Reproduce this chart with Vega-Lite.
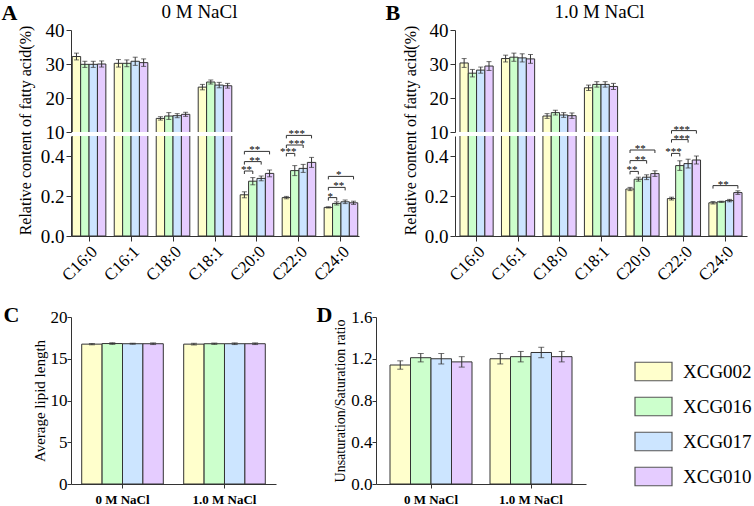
{
 "$schema": "https://vega.github.io/schema/vega-lite/v6.json",
 "background": "white",
 "padding": {"left": 1, "top": 1, "right": 0, "bottom": 0},
 "config": {
  "font": "Liberation Serif",
  "view": {"stroke": null},
  "axis": {"labelFont": "Liberation Serif", "titleFont": "Liberation Serif", "titleFontWeight": "normal", "domainColor": "#333", "tickColor": "#333", "labelColor": "#000", "titleColor": "#000", "grid": false, "labelPadding": 2, "labelOverlap": false, "labelBound": false, "labelFlush": false},
  "title": {"font": "Liberation Serif", "fontWeight": "normal", "color": "#000"},
  "legend": {"labelFont": "Liberation Serif", "labelColor": "#000"}
 },
 "datasets": {
  "fa": [
   {"salt":"0 M NaCl","acid":"C16:0","strain":"XCG002","v":32.2,"e":1.0},
   {"salt":"0 M NaCl","acid":"C16:0","strain":"XCG016","v":29.9,"e":0.9},
   {"salt":"0 M NaCl","acid":"C16:0","strain":"XCG017","v":29.9,"e":0.9},
   {"salt":"0 M NaCl","acid":"C16:0","strain":"XCG010","v":30.0,"e":0.9},
   {"salt":"0 M NaCl","acid":"C16:1","strain":"XCG002","v":30.2,"e":1.1},
   {"salt":"0 M NaCl","acid":"C16:1","strain":"XCG016","v":30.2,"e":1.0},
   {"salt":"0 M NaCl","acid":"C16:1","strain":"XCG017","v":30.8,"e":1.2},
   {"salt":"0 M NaCl","acid":"C16:1","strain":"XCG010","v":30.4,"e":1.1},
   {"salt":"0 M NaCl","acid":"C18:0","strain":"XCG002","v":14.0,"e":0.5},
   {"salt":"0 M NaCl","acid":"C18:0","strain":"XCG016","v":14.7,"e":1.0},
   {"salt":"0 M NaCl","acid":"C18:0","strain":"XCG017","v":14.8,"e":0.6},
   {"salt":"0 M NaCl","acid":"C18:0","strain":"XCG010","v":15.2,"e":0.6},
   {"salt":"0 M NaCl","acid":"C18:1","strain":"XCG002","v":23.2,"e":0.8},
   {"salt":"0 M NaCl","acid":"C18:1","strain":"XCG016","v":24.7,"e":0.6},
   {"salt":"0 M NaCl","acid":"C18:1","strain":"XCG017","v":23.8,"e":0.8},
   {"salt":"0 M NaCl","acid":"C18:1","strain":"XCG010","v":23.6,"e":0.7},
   {"salt":"0 M NaCl","acid":"C20:0","strain":"XCG002","v":0.206,"e":0.015},
   {"salt":"0 M NaCl","acid":"C20:0","strain":"XCG016","v":0.274,"e":0.018},
   {"salt":"0 M NaCl","acid":"C20:0","strain":"XCG017","v":0.288,"e":0.012},
   {"salt":"0 M NaCl","acid":"C20:0","strain":"XCG010","v":0.313,"e":0.017},
   {"salt":"0 M NaCl","acid":"C22:0","strain":"XCG002","v":0.192,"e":0.006},
   {"salt":"0 M NaCl","acid":"C22:0","strain":"XCG016","v":0.327,"e":0.025},
   {"salt":"0 M NaCl","acid":"C22:0","strain":"XCG017","v":0.338,"e":0.02},
   {"salt":"0 M NaCl","acid":"C22:0","strain":"XCG010","v":0.368,"e":0.025},
   {"salt":"0 M NaCl","acid":"C24:0","strain":"XCG002","v":0.143,"e":0.003},
   {"salt":"0 M NaCl","acid":"C24:0","strain":"XCG016","v":0.163,"e":0.008},
   {"salt":"0 M NaCl","acid":"C24:0","strain":"XCG017","v":0.171,"e":0.009},
   {"salt":"0 M NaCl","acid":"C24:0","strain":"XCG010","v":0.166,"e":0.008},
   {"salt":"1.0 M NaCl","acid":"C16:0","strain":"XCG002","v":30.3,"e":1.3},
   {"salt":"1.0 M NaCl","acid":"C16:0","strain":"XCG016","v":27.3,"e":1.1},
   {"salt":"1.0 M NaCl","acid":"C16:0","strain":"XCG017","v":28.2,"e":0.9},
   {"salt":"1.0 M NaCl","acid":"C16:0","strain":"XCG010","v":29.4,"e":1.3},
   {"salt":"1.0 M NaCl","acid":"C16:1","strain":"XCG002","v":31.6,"e":1.0},
   {"salt":"1.0 M NaCl","acid":"C16:1","strain":"XCG016","v":32.0,"e":1.2},
   {"salt":"1.0 M NaCl","acid":"C16:1","strain":"XCG017","v":31.8,"e":1.2},
   {"salt":"1.0 M NaCl","acid":"C16:1","strain":"XCG010","v":31.5,"e":1.3},
   {"salt":"1.0 M NaCl","acid":"C18:0","strain":"XCG002","v":14.7,"e":0.7},
   {"salt":"1.0 M NaCl","acid":"C18:0","strain":"XCG016","v":15.7,"e":0.7},
   {"salt":"1.0 M NaCl","acid":"C18:0","strain":"XCG017","v":15.0,"e":0.7},
   {"salt":"1.0 M NaCl","acid":"C18:0","strain":"XCG010","v":14.8,"e":0.8},
   {"salt":"1.0 M NaCl","acid":"C18:1","strain":"XCG002","v":23.0,"e":0.8},
   {"salt":"1.0 M NaCl","acid":"C18:1","strain":"XCG016","v":24.0,"e":0.8},
   {"salt":"1.0 M NaCl","acid":"C18:1","strain":"XCG017","v":24.0,"e":0.8},
   {"salt":"1.0 M NaCl","acid":"C18:1","strain":"XCG010","v":23.4,"e":0.9},
   {"salt":"1.0 M NaCl","acid":"C20:0","strain":"XCG002","v":0.235,"e":0.008},
   {"salt":"1.0 M NaCl","acid":"C20:0","strain":"XCG016","v":0.284,"e":0.01},
   {"salt":"1.0 M NaCl","acid":"C20:0","strain":"XCG017","v":0.294,"e":0.012},
   {"salt":"1.0 M NaCl","acid":"C20:0","strain":"XCG010","v":0.312,"e":0.014},
   {"salt":"1.0 M NaCl","acid":"C22:0","strain":"XCG002","v":0.187,"e":0.007},
   {"salt":"1.0 M NaCl","acid":"C22:0","strain":"XCG016","v":0.352,"e":0.024},
   {"salt":"1.0 M NaCl","acid":"C22:0","strain":"XCG017","v":0.362,"e":0.022},
   {"salt":"1.0 M NaCl","acid":"C22:0","strain":"XCG010","v":0.38,"e":0.02},
   {"salt":"1.0 M NaCl","acid":"C24:0","strain":"XCG002","v":0.166,"e":0.006},
   {"salt":"1.0 M NaCl","acid":"C24:0","strain":"XCG016","v":0.171,"e":0.003},
   {"salt":"1.0 M NaCl","acid":"C24:0","strain":"XCG017","v":0.177,"e":0.006},
   {"salt":"1.0 M NaCl","acid":"C24:0","strain":"XCG010","v":0.217,"e":0.009}
  ],
  "br": [
   {"salt":"0 M NaCl","acid":"C20:0","a":"XCG002","b":"XCG016","y":0.325,"label":"**"},
   {"salt":"0 M NaCl","acid":"C20:0","a":"XCG002","b":"XCG017","y":0.372,"label":"**"},
   {"salt":"0 M NaCl","acid":"C20:0","a":"XCG002","b":"XCG010","y":0.423,"label":"**"},
   {"salt":"0 M NaCl","acid":"C22:0","a":"XCG002","b":"XCG016","y":0.413,"label":"***"},
   {"salt":"0 M NaCl","acid":"C22:0","a":"XCG002","b":"XCG017","y":0.455,"label":"***"},
   {"salt":"0 M NaCl","acid":"C22:0","a":"XCG002","b":"XCG010","y":0.503,"label":"***"},
   {"salt":"0 M NaCl","acid":"C24:0","a":"XCG002","b":"XCG016","y":0.192,"label":"*"},
   {"salt":"0 M NaCl","acid":"C24:0","a":"XCG002","b":"XCG017","y":0.243,"label":"**"},
   {"salt":"0 M NaCl","acid":"C24:0","a":"XCG002","b":"XCG010","y":0.298,"label":"*"},
   {"salt":"1.0 M NaCl","acid":"C20:0","a":"XCG002","b":"XCG016","y":0.323,"label":"**"},
   {"salt":"1.0 M NaCl","acid":"C20:0","a":"XCG002","b":"XCG017","y":0.377,"label":"**"},
   {"salt":"1.0 M NaCl","acid":"C20:0","a":"XCG002","b":"XCG010","y":0.43,"label":"**"},
   {"salt":"1.0 M NaCl","acid":"C22:0","a":"XCG002","b":"XCG016","y":0.413,"label":"***"},
   {"salt":"1.0 M NaCl","acid":"C22:0","a":"XCG002","b":"XCG017","y":0.482,"label":"***"},
   {"salt":"1.0 M NaCl","acid":"C22:0","a":"XCG002","b":"XCG010","y":0.527,"label":"***"},
   {"salt":"1.0 M NaCl","acid":"C24:0","a":"XCG002","b":"XCG010","y":0.252,"label":"**"}
  ],
  "len": [
   {"salt":"0 M NaCl","strain":"XCG002","v":16.75,"e":0.08},
   {"salt":"0 M NaCl","strain":"XCG016","v":16.82,"e":0.1},
   {"salt":"0 M NaCl","strain":"XCG017","v":16.8,"e":0.06},
   {"salt":"0 M NaCl","strain":"XCG010","v":16.8,"e":0.1},
   {"salt":"1.0 M NaCl","strain":"XCG002","v":16.75,"e":0.1},
   {"salt":"1.0 M NaCl","strain":"XCG016","v":16.8,"e":0.08},
   {"salt":"1.0 M NaCl","strain":"XCG017","v":16.8,"e":0.1},
   {"salt":"1.0 M NaCl","strain":"XCG010","v":16.8,"e":0.1}
  ],
  "ratio": [
   {"salt":"0 M NaCl","strain":"XCG002","v":1.14,"e":0.04},
   {"salt":"0 M NaCl","strain":"XCG016","v":1.21,"e":0.04},
   {"salt":"0 M NaCl","strain":"XCG017","v":1.2,"e":0.05},
   {"salt":"0 M NaCl","strain":"XCG010","v":1.17,"e":0.05},
   {"salt":"1.0 M NaCl","strain":"XCG002","v":1.2,"e":0.05},
   {"salt":"1.0 M NaCl","strain":"XCG016","v":1.22,"e":0.05},
   {"salt":"1.0 M NaCl","strain":"XCG017","v":1.26,"e":0.05},
   {"salt":"1.0 M NaCl","strain":"XCG010","v":1.22,"e":0.05}
  ]
 },
 "resolve": {"scale": {"fill": "independent", "xOffset": "independent"}, "legend": {"fill": "independent"}},
 "spacing": 19,
 "align": "none",
 "vconcat": [
  {
   "hconcat": [
    {
     "spacing": 4,
     "bounds": "flush",
     "resolve": {"scale": {"fill": "independent", "xOffset": "independent"}, "legend": {"fill": "independent"}},
     "vconcat": [
      {
       "width": 288, "height": 102,
       "data": {"name": "fa"},
       "transform": [{"filter": "datum.salt == '0 M NaCl'"}, {"calculate": "datum.v - datum.e", "as": "lo"}, {"calculate": "datum.v + datum.e", "as": "hi"}],
       "encoding": {
        "x": {"field": "acid", "type": "nominal", "scale": {"domain": ["C16:0","C16:1","C18:0","C18:1","C20:0","C22:0","C24:0"], "paddingInner": 0.2, "paddingOuter": 0.03},
              "axis": {"orient": "top", "domain": false, "ticks": false, "labels": false, "title": "0 M NaCl", "titleFontSize": 19, "titleX": 128, "titleY": -19, "titleBaseline": "middle", "titleAlign": "center"}},
        "xOffset": {"field": "strain", "type": "nominal", "scale": {"domain": ["XCG002","XCG016","XCG017","XCG010"]}}
       },
       "layer": [
        {"mark": {"type": "bar", "clip": true, "stroke": "#333", "strokeWidth": 1},
         "encoding": {
          "y": {"field": "v", "type": "quantitative", "scale": {"domain": [10, 40], "nice": false, "zero": false},
                "axis": {"tickCount": 4, "labelOverlap": false, "labelFlush": false, "tickSize": 5, "labelFontSize": 19, "title": "A", "titleAngle": 0, "titleX": -70, "titleY": -18, "titleAlign": "left", "titleBaseline": "middle", "titleFontSize": 22, "titleFontWeight": "bold"}},
          "fill": {"field": "strain", "type": "nominal", "scale": {"domain": ["XCG002","XCG016","XCG017","XCG010"], "range": ["#FFFFCC","#CCFFCC","#CCE5FF","#E5CCFF"]}, "legend": null}
         }},
        {"mark": {"type": "rule", "clip": true, "color": "#333"}, "encoding": {"y": {"field": "lo", "type": "quantitative"}, "y2": {"field": "hi"}}},
        {"mark": {"type": "tick", "clip": true, "color": "#333", "size": 5, "thickness": 1}, "encoding": {"y": {"field": "lo", "type": "quantitative"}}},
        {"mark": {"type": "tick", "clip": true, "color": "#333", "size": 5, "thickness": 1}, "encoding": {"y": {"field": "hi", "type": "quantitative"}}}
       ]
      },
      {
       "width": 288, "height": 100,
       "encoding": {
        "x": {"field": "acid", "type": "nominal", "scale": {"domain": ["C16:0","C16:1","C18:0","C18:1","C20:0","C22:0","C24:0"], "paddingInner": 0.2, "paddingOuter": 0.03}, "axis": {"title": null, "labelAngle": -45, "labelFontSize": 17, "tickSize": 5}}
       },
       "layer": [
        {"data": {"name": "fa"},
         "transform": [{"filter": "datum.salt == '0 M NaCl'"}],
         "mark": {"type": "bar", "clip": true, "stroke": "#333", "strokeWidth": 1},
         "encoding": {
          "xOffset": {"field": "strain", "type": "nominal", "scale": {"domain": ["XCG002","XCG016","XCG017","XCG010"]}},
          "y": {"field": "v", "type": "quantitative", "scale": {"domain": [0, 0.5], "nice": false},
                "axis": {"values": [0,0.1,0.2,0.3,0.4], "format": ".1f", "labelExpr": "round(datum.value*10) % 2 == 0 ? datum.label : ''", "tickSize": {"condition": {"test": "round(datum.value*10) % 2 == 0", "value": 5}, "value": 3}, "labelFontSize": 19, "title": "Relative content of fatty acid(%)", "titleFontSize": 16, "titleX": -46, "titleY": -6, "titleBaseline": "middle", "titleAlign": "center"}},
          "fill": {"field": "strain", "type": "nominal", "scale": {"domain": ["XCG002","XCG016","XCG017","XCG010"], "range": ["#FFFFCC","#CCFFCC","#CCE5FF","#E5CCFF"]}, "legend": null}
         }},
        {"data": {"name": "fa"},
         "transform": [{"filter": "datum.salt == '0 M NaCl'"}, {"calculate": "datum.v - datum.e", "as": "lo"}, {"calculate": "datum.v + datum.e", "as": "hi"}],
         "mark": {"type": "rule", "clip": true, "color": "#333"},
         "encoding": {"xOffset": {"field": "strain", "type": "nominal"}, "y": {"field": "lo", "type": "quantitative"}, "y2": {"field": "hi"}}},
        {"data": {"name": "fa"},
         "transform": [{"filter": "datum.salt == '0 M NaCl'"}, {"calculate": "datum.v - datum.e", "as": "lo"}],
         "mark": {"type": "tick", "clip": true, "color": "#333", "size": 5, "thickness": 1},
         "encoding": {"xOffset": {"field": "strain", "type": "nominal"}, "y": {"field": "lo", "type": "quantitative"}}},
        {"data": {"name": "fa"},
         "transform": [{"filter": "datum.salt == '0 M NaCl'"}, {"calculate": "datum.v + datum.e", "as": "hi"}],
         "mark": {"type": "tick", "clip": true, "color": "#333", "size": 5, "thickness": 1},
         "encoding": {"xOffset": {"field": "strain", "type": "nominal"}, "y": {"field": "hi", "type": "quantitative"}}},
        {"data": {"name": "br"},
         "transform": [{"filter": "datum.salt == '0 M NaCl'"}, {"fold": ["a", "b"], "as": ["end", "s"]}, {"calculate": "datum.y - 0.015", "as": "yt"}],
         "mark": {"type": "rule", "color": "#333", "strokeWidth": 1},
         "encoding": {"xOffset": {"field": "s", "type": "nominal"}, "y": {"field": "y", "type": "quantitative"}, "y2": {"field": "yt"}}},
        {"data": {"name": "br"},
         "transform": [{"filter": "datum.salt == '0 M NaCl'"}, {"fold": ["a", "b"], "as": ["end", "s"]}],
         "mark": {"type": "line", "color": "#333", "strokeWidth": 1},
         "encoding": {"xOffset": {"field": "s", "type": "nominal"}, "y": {"field": "y", "type": "quantitative"}, "detail": [{"field": "acid"}, {"field": "b"}]}},
        {"data": {"name": "br"},
         "transform": [{"filter": "datum.salt == '0 M NaCl'"}, {"calculate": "datum.b == 'XCG016' ? 'XCG002' : 'XCG016'", "as": "mid"}],
         "mark": {"type": "text", "fontSize": 11, "baseline": "alphabetic", "dy": 2, "dx": 2, "color": "#000"},
         "encoding": {"xOffset": {"field": "mid", "type": "nominal"}, "y": {"field": "y", "type": "quantitative"}, "text": {"field": "label"}}}
       ]
      }
     ]
    },
    {
     "spacing": 4,
     "bounds": "flush",
     "resolve": {"scale": {"fill": "independent", "xOffset": "independent"}, "legend": {"fill": "independent"}},
     "vconcat": [
      {
       "width": 292, "height": 102,
       "data": {"name": "fa"},
       "transform": [{"filter": "datum.salt == '1.0 M NaCl'"}, {"calculate": "datum.v - datum.e", "as": "lo"}, {"calculate": "datum.v + datum.e", "as": "hi"}],
       "encoding": {
        "x": {"field": "acid", "type": "nominal", "scale": {"domain": ["C16:0","C16:1","C18:0","C18:1","C20:0","C22:0","C24:0"], "paddingInner": 0.2, "paddingOuter": 0.12},
              "axis": {"orient": "top", "domain": false, "ticks": false, "labels": false, "title": "1.0 M NaCl", "titleFontSize": 19, "titleX": 144, "titleY": -19, "titleBaseline": "middle", "titleAlign": "center"}},
        "xOffset": {"field": "strain", "type": "nominal", "scale": {"domain": ["XCG002","XCG016","XCG017","XCG010"]}}
       },
       "layer": [
        {"mark": {"type": "bar", "clip": true, "stroke": "#333", "strokeWidth": 1},
         "encoding": {
          "y": {"field": "v", "type": "quantitative", "scale": {"domain": [10, 40], "nice": false, "zero": false},
                "axis": {"tickCount": 4, "labelOverlap": false, "labelFlush": false, "tickSize": 5, "labelFontSize": 19, "title": "B", "titleAngle": 0, "titleX": -70, "titleY": -18, "titleAlign": "left", "titleBaseline": "middle", "titleFontSize": 22, "titleFontWeight": "bold"}},
          "fill": {"field": "strain", "type": "nominal", "scale": {"domain": ["XCG002","XCG016","XCG017","XCG010"], "range": ["#FFFFCC","#CCFFCC","#CCE5FF","#E5CCFF"]}, "legend": null}
         }},
        {"mark": {"type": "rule", "clip": true, "color": "#333"}, "encoding": {"y": {"field": "lo", "type": "quantitative"}, "y2": {"field": "hi"}}},
        {"mark": {"type": "tick", "clip": true, "color": "#333", "size": 5, "thickness": 1}, "encoding": {"y": {"field": "lo", "type": "quantitative"}}},
        {"mark": {"type": "tick", "clip": true, "color": "#333", "size": 5, "thickness": 1}, "encoding": {"y": {"field": "hi", "type": "quantitative"}}}
       ]
      },
      {
       "width": 292, "height": 100,
       "encoding": {
        "x": {"field": "acid", "type": "nominal", "scale": {"domain": ["C16:0","C16:1","C18:0","C18:1","C20:0","C22:0","C24:0"], "paddingInner": 0.2, "paddingOuter": 0.12}, "axis": {"title": null, "labelAngle": -45, "labelFontSize": 17, "tickSize": 5}}
       },
       "layer": [
        {"data": {"name": "fa"},
         "transform": [{"filter": "datum.salt == '1.0 M NaCl'"}],
         "mark": {"type": "bar", "clip": true, "stroke": "#333", "strokeWidth": 1},
         "encoding": {
          "xOffset": {"field": "strain", "type": "nominal", "scale": {"domain": ["XCG002","XCG016","XCG017","XCG010"]}},
          "y": {"field": "v", "type": "quantitative", "scale": {"domain": [0, 0.5], "nice": false},
                "axis": {"values": [0,0.1,0.2,0.3,0.4], "format": ".1f", "labelExpr": "round(datum.value*10) % 2 == 0 ? datum.label : ''", "tickSize": {"condition": {"test": "round(datum.value*10) % 2 == 0", "value": 5}, "value": 3}, "labelFontSize": 19, "title": "Relative content of fatty acid(%)", "titleFontSize": 16, "titleX": -45, "titleY": -6, "titleBaseline": "middle", "titleAlign": "center"}},
          "fill": {"field": "strain", "type": "nominal", "scale": {"domain": ["XCG002","XCG016","XCG017","XCG010"], "range": ["#FFFFCC","#CCFFCC","#CCE5FF","#E5CCFF"]}, "legend": null}
         }},
        {"data": {"name": "fa"},
         "transform": [{"filter": "datum.salt == '1.0 M NaCl'"}, {"calculate": "datum.v - datum.e", "as": "lo"}, {"calculate": "datum.v + datum.e", "as": "hi"}],
         "mark": {"type": "rule", "clip": true, "color": "#333"},
         "encoding": {"xOffset": {"field": "strain", "type": "nominal"}, "y": {"field": "lo", "type": "quantitative"}, "y2": {"field": "hi"}}},
        {"data": {"name": "fa"},
         "transform": [{"filter": "datum.salt == '1.0 M NaCl'"}, {"calculate": "datum.v - datum.e", "as": "lo"}],
         "mark": {"type": "tick", "clip": true, "color": "#333", "size": 5, "thickness": 1},
         "encoding": {"xOffset": {"field": "strain", "type": "nominal"}, "y": {"field": "lo", "type": "quantitative"}}},
        {"data": {"name": "fa"},
         "transform": [{"filter": "datum.salt == '1.0 M NaCl'"}, {"calculate": "datum.v + datum.e", "as": "hi"}],
         "mark": {"type": "tick", "clip": true, "color": "#333", "size": 5, "thickness": 1},
         "encoding": {"xOffset": {"field": "strain", "type": "nominal"}, "y": {"field": "hi", "type": "quantitative"}}},
        {"data": {"name": "br"},
         "transform": [{"filter": "datum.salt == '1.0 M NaCl'"}, {"fold": ["a", "b"], "as": ["end", "s"]}, {"calculate": "datum.y - 0.015", "as": "yt"}],
         "mark": {"type": "rule", "color": "#333", "strokeWidth": 1},
         "encoding": {"xOffset": {"field": "s", "type": "nominal"}, "y": {"field": "y", "type": "quantitative"}, "y2": {"field": "yt"}}},
        {"data": {"name": "br"},
         "transform": [{"filter": "datum.salt == '1.0 M NaCl'"}, {"fold": ["a", "b"], "as": ["end", "s"]}],
         "mark": {"type": "line", "color": "#333", "strokeWidth": 1},
         "encoding": {"xOffset": {"field": "s", "type": "nominal"}, "y": {"field": "y", "type": "quantitative"}, "detail": [{"field": "acid"}, {"field": "b"}]}},
        {"data": {"name": "br"},
         "transform": [{"filter": "datum.salt == '1.0 M NaCl'"}, {"calculate": "datum.b == 'XCG016' ? 'XCG002' : 'XCG016'", "as": "mid"}],
         "mark": {"type": "text", "fontSize": 11, "baseline": "alphabetic", "dy": 2, "dx": 2, "color": "#000"},
         "encoding": {"xOffset": {"field": "mid", "type": "nominal"}, "y": {"field": "y", "type": "quantitative"}, "text": {"field": "label"}}}
       ]
      }
     ]
    }
   ],
   "spacing": 26,
   "resolve": {"scale": {"fill": "independent", "xOffset": "independent"}, "legend": {"fill": "independent"}}
  },
  {
   "hconcat": [
    {
     "width": 205, "height": 167,
     "data": {"name": "len"},
     "transform": [{"calculate": "datum.v - datum.e", "as": "lo"}, {"calculate": "datum.v + datum.e", "as": "hi"}],
     "resolve": {"axis": {"x": "independent"}},
     "encoding": {
      "x": {"field": "salt", "type": "nominal", "scale": {"domain": ["0 M NaCl","1.0 M NaCl"], "paddingInner": 0.2, "paddingOuter": 0.105}, "axis": {"title": null, "labelAngle": 0, "labelFontSize": 13, "labelFontWeight": "bold", "tickSize": 4, "labelPadding": 5}},
      "xOffset": {"field": "strain", "type": "nominal", "scale": {"domain": ["XCG002","XCG016","XCG017","XCG010"]}}
     },
     "layer": [
      {"mark": {"type": "bar", "stroke": "#333", "strokeWidth": 1},
       "encoding": {
        "y": {"field": "v", "type": "quantitative", "scale": {"domain": [0, 20], "nice": false},
              "axis": {"values": [0,2.5,5,7.5,10,12.5,15,17.5,20], "labelExpr": "datum.value % 5 == 0 ? datum.label : ''", "tickSize": {"condition": {"test": "datum.value % 5 == 0", "value": 4}, "value": 2}, "labelPadding": 0, "labelFontSize": 17, "title": "Average lipid length", "titleFontSize": 15, "titlePadding": 3}},
        "fill": {"field": "strain", "type": "nominal", "scale": {"domain": ["XCG002","XCG016","XCG017","XCG010"], "range": ["#FFFFCC","#CCFFCC","#CCE5FF","#E5CCFF"]}, "legend": null}
       }},
      {"mark": {"type": "rule", "color": "#333"},
       "encoding": {
        "x": {"field": "salt", "type": "nominal", "axis": {"orient": "top", "domain": false, "ticks": false, "labels": false, "title": "C", "titleX": -68, "titleY": -3, "titleAngle": 0, "titleAlign": "left", "titleBaseline": "middle", "titleFontSize": 22, "titleFontWeight": "bold"}},
        "y": {"field": "lo", "type": "quantitative"}, "y2": {"field": "hi"}}},
      {"mark": {"type": "tick", "color": "#333", "size": 6, "thickness": 1}, "encoding": {"x": {"field": "salt", "type": "nominal", "axis": null}, "y": {"field": "lo", "type": "quantitative"}}},
      {"mark": {"type": "tick", "color": "#333", "size": 6, "thickness": 1}, "encoding": {"x": {"field": "salt", "type": "nominal", "axis": null}, "y": {"field": "hi", "type": "quantitative"}}}
     ]
    },
    {
     "width": 210, "height": 167,
     "data": {"name": "ratio"},
     "transform": [{"calculate": "datum.v - datum.e", "as": "lo"}, {"calculate": "datum.v + datum.e", "as": "hi"}],
     "resolve": {"axis": {"x": "independent"}},
     "encoding": {
      "x": {"field": "salt", "type": "nominal", "scale": {"domain": ["0 M NaCl","1.0 M NaCl"], "paddingInner": 0.18, "paddingOuter": 0.14}, "axis": {"title": null, "labelAngle": 0, "labelFontSize": 13, "labelFontWeight": "bold", "tickSize": 4, "labelPadding": 5}},
      "xOffset": {"field": "strain", "type": "nominal", "scale": {"domain": ["XCG002","XCG016","XCG017","XCG010"]}}
     },
     "layer": [
      {"mark": {"type": "bar", "stroke": "#333", "strokeWidth": 1},
       "encoding": {
        "y": {"field": "v", "type": "quantitative", "scale": {"domain": [0, 1.6], "nice": false},
              "axis": {"values": [0,0.2,0.4,0.6,0.8,1.0,1.2,1.4,1.6], "format": ".1f", "labelExpr": "round(datum.value*10) % 4 == 0 ? datum.label : ''", "tickSize": {"condition": {"test": "round(datum.value*10) % 4 == 0", "value": 4}, "value": 2}, "labelPadding": 0, "labelFontSize": 17, "title": "Unsaturation/Saturation ratio", "titleFontSize": 14, "titlePadding": 3}},
        "fill": {"field": "strain", "type": "nominal", "scale": {"domain": ["XCG002","XCG016","XCG017","XCG010"], "range": ["#FFFFCC","#CCFFCC","#CCE5FF","#E5CCFF"]},
                 "legend": {"orient": "none", "legendX": 258, "legendY": 35, "title": null, "symbolType": "M-1,-0.5H1V0.5H-1Z", "symbolSize": 1369, "symbolStrokeColor": "#555", "symbolStrokeWidth": 1.2, "symbolOpacity": 1, "labelFontSize": 19, "labelOffset": 10, "rowPadding": 3, "padding": 0}}
       }},
      {"mark": {"type": "rule", "color": "#333"},
       "encoding": {
        "x": {"field": "salt", "type": "nominal", "axis": {"orient": "top", "domain": false, "ticks": false, "labels": false, "title": "D", "titleX": -60, "titleY": -3, "titleAngle": 0, "titleAlign": "left", "titleBaseline": "middle", "titleFontSize": 22, "titleFontWeight": "bold"}},
        "y": {"field": "lo", "type": "quantitative"}, "y2": {"field": "hi"}}},
      {"mark": {"type": "tick", "color": "#333", "size": 6, "thickness": 1}, "encoding": {"x": {"field": "salt", "type": "nominal", "axis": null}, "y": {"field": "lo", "type": "quantitative"}}},
      {"mark": {"type": "tick", "color": "#333", "size": 6, "thickness": 1}, "encoding": {"x": {"field": "salt", "type": "nominal", "axis": null}, "y": {"field": "hi", "type": "quantitative"}}}
     ]
    }
   ],
   "spacing": 40,
   "resolve": {"scale": {"fill": "independent", "xOffset": "independent"}, "legend": {"fill": "independent"}}
  }
 ]
}
